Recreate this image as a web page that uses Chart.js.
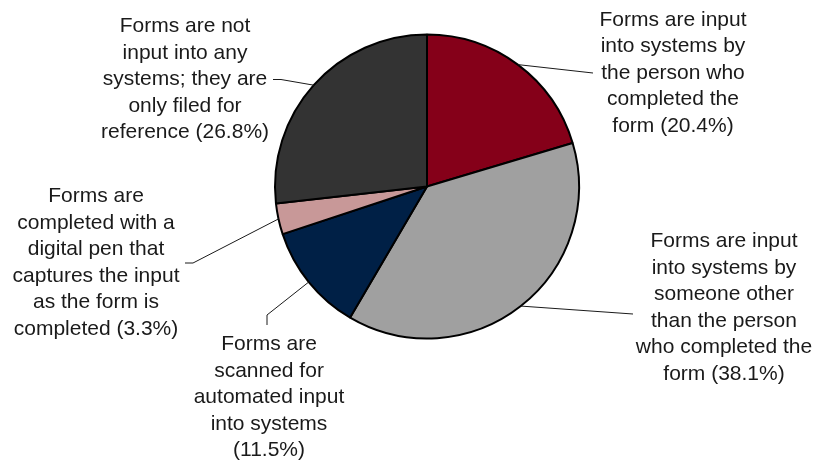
<!DOCTYPE html>
<html>
<head>
<meta charset="utf-8">
<title>Form processing</title>
<script src="https://cdn.jsdelivr.net/npm/chart.js@4.4.1/dist/chart.umd.min.js"></script>
<style>
  html, body { margin: 0; padding: 0; background: #fff; }
  #wrap { width: 817px; height: 465px; position: relative; }
</style>
</head>
<body>
<div id="wrap"><canvas id="pie"></canvas></div>
<script>
// slice order: clockwise from 12 o'clock
const categories = [
  'Input by the person who completed the form',
  'Input by someone other than the person who completed the form',
  'Scanned for automated input',
  'Completed with a digital pen',
  'Not input, only filed'
];
const shares = [20.4, 38.1, 11.5, 3.3, 26.8];
const labelLines = [
  ['Forms are input', 'into systems by', 'the person who', 'completed the', 'form (20.4%)'],
  ['Forms are input', 'into systems by', 'someone other', 'than the person', 'who completed the', 'form (38.1%)'],
  ['Forms are', 'scanned for', 'automated input', 'into systems', '(11.5%)'],
  ['Forms are', 'completed with a', 'digital pen that', 'captures the input', 'as the form is', 'completed (3.3%)'],
  ['Forms are not', 'input into any', 'systems; they are', 'only filed for', 'reference (26.8%)']
];
const colors = ['#850019', '#a0a0a0', '#002046', '#c89898', '#333333'];

// where each label block sits, and the bend points of its leader line
const placement = [
  { x: 673, y: 25.5, path: [[593, 73]] },
  { x: 724, y: 247, path: [[633, 314]] },
  { x: 269, y: 350, path: [[267, 315], [267, 325]] },
  { x: 96,  y: 202, path: [[193, 263], [185, 263]] },
  { x: 185, y: 32,  path: [[281, 79.5], [273, 79.5]] }
];

const calloutPlugin = {
  id: 'callouts',
  afterDraw(chart) {
    const ctx = chart.ctx;
    const arcs = chart.getDatasetMeta(0).data;
    ctx.save();
    arcs.forEach((arc, i) => {
      const p = placement[i];
      const mid = (arc.startAngle + arc.endAngle) / 2;
      const sx = arc.x + Math.cos(mid) * arc.outerRadius;
      const sy = arc.y + Math.sin(mid) * arc.outerRadius;
      ctx.beginPath();
      ctx.moveTo(sx, sy);
      p.path.forEach(pt => ctx.lineTo(pt[0], pt[1]));
      ctx.strokeStyle = '#1a1a1a';
      ctx.lineWidth = 1;
      ctx.stroke();

      ctx.fillStyle = '#1a1a1a';
      ctx.font = '21px "Liberation Sans", Arial, sans-serif';
      ctx.textAlign = 'center';
      ctx.textBaseline = 'alphabetic';
      labelLines[i].forEach((line, j) => {
        ctx.fillText(line, p.x, p.y + j * 26.6);
      });
    });
    ctx.restore();
  }
};

new Chart(document.getElementById('pie'), {
  type: 'pie',
  data: {
    labels: categories,
    datasets: [{
      data: shares,
      backgroundColor: colors,
      borderColor: '#000',
      borderWidth: 2
    }]
  },
  options: {
    responsive: true,
    maintainAspectRatio: false,
    animation: false,
    radius: 152,
    layout: { padding: { left: 37, right: 0, top: 0, bottom: 92 } },
    plugins: {
      legend: { display: false },
      tooltip: { enabled: false }
    }
  },
  plugins: [calloutPlugin]
});
</script>
</body>
</html>
